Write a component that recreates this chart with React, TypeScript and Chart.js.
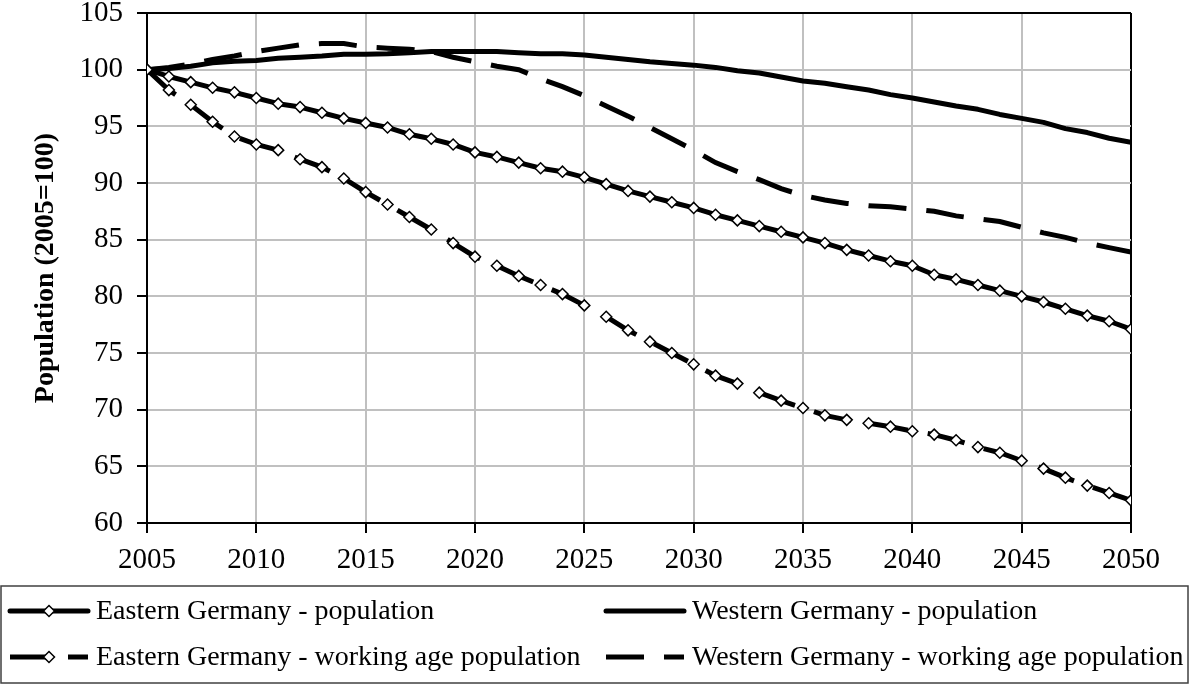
import React, { useEffect, useRef } from 'react';
import { Chart, registerables } from 'chart.js';

Chart.register(...registerables);

const years = [
  2005, 2006, 2007, 2008, 2009, 2010, 2011, 2012, 2013, 2014,
  2015, 2016, 2017, 2018, 2019, 2020, 2021, 2022, 2023, 2024,
  2025, 2026, 2027, 2028, 2029, 2030, 2031, 2032, 2033, 2034,
  2035, 2036, 2037, 2038, 2039, 2040, 2041, 2042, 2043, 2044,
  2045, 2046, 2047, 2048, 2049, 2050,
];

const eastPop = [
  100, 99.4, 98.9, 98.4, 98.0, 97.5, 97.0, 96.7, 96.2, 95.7,
  95.3, 94.9, 94.3, 93.9, 93.4, 92.7, 92.3, 91.8, 91.3, 91.0,
  90.5, 89.9, 89.3, 88.8, 88.3, 87.8, 87.2, 86.7, 86.2, 85.7,
  85.2, 84.7, 84.1, 83.6, 83.1, 82.7, 81.9, 81.5, 81.0, 80.5,
  80.0, 79.5, 78.9, 78.3, 77.8, 77.1,
];

const westPop = [
  100, 100.1, 100.3, 100.6, 100.75, 100.8, 101.0, 101.1, 101.2, 101.35,
  101.35, 101.4, 101.5, 101.6, 101.6, 101.6, 101.6, 101.5, 101.4, 101.4,
  101.3, 101.1, 100.9, 100.7, 100.55, 100.4, 100.2, 99.9, 99.7, 99.35,
  99.0, 98.8, 98.5, 98.2, 97.8, 97.5, 97.15, 96.8, 96.5, 96.05,
  95.7, 95.35, 94.8, 94.45, 93.95, 93.6,
];

const eastWork = [
  100, 98.2, 96.9, 95.4, 94.1, 93.4, 92.9, 92.1, 91.4, 90.4,
  89.2, 88.1, 87.0, 85.9, 84.7, 83.5, 82.7, 81.8, 81.0, 80.2,
  79.2, 78.2, 77.0, 76.0, 75.0, 74.0, 73.0, 72.3, 71.5, 70.8,
  70.15, 69.5, 69.1, 68.8, 68.5, 68.1, 67.8, 67.3, 66.7, 66.2,
  65.5, 64.8, 64.0, 63.3, 62.65, 62.0,
];

const westWork = [
  100, 100.2, 100.5, 100.9, 101.2, 101.6, 101.9, 102.2, 102.3, 102.3,
  102.0, 101.9, 101.8, 101.6, 101.1, 100.7, 100.3, 100.0, 99.2, 98.5,
  97.7, 96.8, 95.9, 94.9, 93.9, 92.9, 91.8, 91.0, 90.3, 89.5,
  88.9, 88.5, 88.2, 88.0, 87.9, 87.7, 87.5, 87.1, 86.85, 86.6,
  86.1, 85.6, 85.2, 84.7, 84.3, 83.9,
];

const xTicks = [2005, 2010, 2015, 2020, 2025, 2030, 2035, 2040, 2045, 2050];
const yTicks = [60, 65, 70, 75, 80, 85, 90, 95, 100, 105];

const seriesLabels = [
  'Eastern Germany - population',
  'Western Germany - population',
  'Eastern Germany - working age population',
  'Western Germany - working age population',
];
const yTitle = 'Population (2005=100)';

const FONT = '"Liberation Serif", "Times New Roman", serif';

const toPoints = (arr: number[]) => years.map((yr, i) => ({ x: yr, y: arr[i] }));

const boxLegend = {
  id: 'boxLegend',
  afterDraw(chart: any) {
    const ctx = chart.ctx as CanvasRenderingContext2D;
    const ds = chart.data.datasets;
    ctx.save();
    ctx.setLineDash([]);
    ctx.strokeStyle = '#404040';
    ctx.lineWidth = 1.5;
    ctx.strokeRect(1, 586, 1187, 97);
    const slots = [
      { i: 0, x: 10, y: 611 },
      { i: 1, x: 606, y: 611 },
      { i: 2, x: 10, y: 657 },
      { i: 3, x: 606, y: 657 },
    ];
    for (const s of slots) {
      const d = ds[s.i];
      ctx.save();
      ctx.strokeStyle = '#000';
      ctx.lineWidth = d.borderWidth;
      ctx.lineCap = d.borderDash && d.borderDash.length ? 'butt' : 'round';
      ctx.setLineDash(d.borderDash || []);
      ctx.beginPath();
      ctx.moveTo(s.x, s.y);
      ctx.lineTo(s.x + 78, s.y);
      ctx.stroke();
      ctx.setLineDash([]);
      if (d.pointRadius > 0) {
        const cx = s.x + 39;
        const r = d.pointRadius;
        ctx.beginPath();
        ctx.moveTo(cx - r, s.y);
        ctx.lineTo(cx, s.y - r);
        ctx.lineTo(cx + r, s.y);
        ctx.lineTo(cx, s.y + r);
        ctx.closePath();
        ctx.fillStyle = '#fff';
        ctx.fill();
        ctx.lineWidth = d.pointBorderWidth;
        ctx.stroke();
      }
      ctx.fillStyle = '#000';
      ctx.font = `28px ${FONT}`;
      ctx.textAlign = 'left';
      ctx.textBaseline = 'middle';
      ctx.fillText(d.label, s.x + 86, s.y + 1);
      ctx.restore();
    }
    ctx.restore();
  },
};

export default function App() {
  const ref = useRef<HTMLCanvasElement | null>(null);

  useEffect(() => {
    document.body.style.margin = '0';
    const canvas = ref.current;
    if (!canvas) return;
    const marker = {
      pointStyle: 'rectRot',
      pointRadius: 5.5,
      pointHoverRadius: 5.5,
      pointBackgroundColor: '#ffffff',
      pointBorderColor: '#000000',
      pointBorderWidth: 1.5,
    };
    const chart = new Chart(canvas, {
      type: 'line',
      data: {
        datasets: [
          {
            label: seriesLabels[0],
            data: toPoints(eastPop),
            borderColor: '#000',
            borderWidth: 5,
            borderCapStyle: 'round',
            borderJoinStyle: 'round',
            ...marker,
            order: 0,
          },
          {
            label: seriesLabels[1],
            data: toPoints(westPop),
            borderColor: '#000',
            borderWidth: 5,
            borderCapStyle: 'round',
            borderJoinStyle: 'round',
            pointRadius: 0,
            order: 2,
          },
          {
            label: seriesLabels[2],
            data: toPoints(eastWork),
            borderColor: '#000',
            borderWidth: 5,
            borderDash: [38, 20],
            ...marker,
            order: 1,
          },
          {
            label: seriesLabels[3],
            data: toPoints(westWork),
            borderColor: '#000',
            borderWidth: 5,
            borderDash: [38, 20],
            pointRadius: 0,
            order: 3,
          },
        ] as any,
      },
      options: {
        animation: false,
        responsive: true,
        maintainAspectRatio: false,
        layout: { padding: { left: 0, right: 61, top: 13, bottom: 98 } },
        plugins: { legend: { display: false }, tooltip: { enabled: false } },
        scales: {
          x: {
            type: 'linear',
            min: 2005,
            max: 2050,
            afterBuildTicks: (s: any) => {
              s.ticks = xTicks.map((v) => ({ value: v }));
            },
            afterFit: (s: any) => {
              s.height = 63;
              s.paddingLeft = 0;
              s.paddingRight = 0;
            },
            ticks: {
              callback: (v: any) => String(v),
              font: { family: FONT, size: 29 },
              color: '#000',
              padding: 10,
              maxRotation: 0,
              autoSkip: false,
            },
            grid: {
              color: (c: any) => (c.tick && c.tick.value === 2050 ? '#000' : '#c0c0c0'),
              lineWidth: 2,
              tickLength: 10,
              tickColor: '#000',
              tickWidth: 2,
            },
            border: { color: '#000', width: 2 },
          },
          y: {
            type: 'linear',
            min: 60,
            max: 105,
            afterBuildTicks: (s: any) => {
              s.ticks = yTicks.map((v) => ({ value: v }));
            },
            afterFit: (s: any) => {
              s.width = 147;
              s.paddingTop = 0;
              s.paddingBottom = 0;
            },
            ticks: {
              callback: (v: any) => String(v),
              font: { family: FONT, size: 29 },
              color: '#000',
              padding: 14,
              autoSkip: false,
            },
            grid: {
              color: (c: any) => (c.tick && c.tick.value === 105 ? '#000' : '#c0c0c0'),
              lineWidth: 2,
              tickLength: 10,
              tickColor: '#000',
              tickWidth: 2,
            },
            border: { color: '#000', width: 2 },
            title: {
              display: true,
              text: yTitle,
              font: { family: FONT, size: 28, weight: 'bold' },
              color: '#000',
              padding: { top: 29, bottom: 0 },
            },
          },
        },
      } as any,
      plugins: [boxLegend],
    });
    return () => chart.destroy();
  }, []);

  return (
    <div style={{ width: 1192, height: 684, position: 'relative' }}>
      <canvas ref={ref} />
    </div>
  );
}
